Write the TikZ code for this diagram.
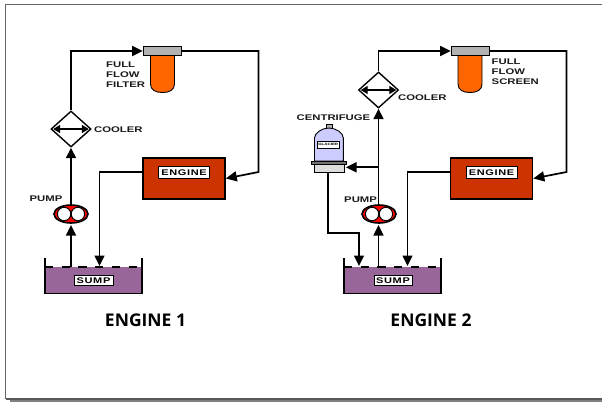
\documentclass[tikz,border=0pt]{standalone}
\usepackage{fontspec}
\setmainfont{Liberation Sans}
\newfontfamily\labfont[FakeStretch=1.38]{Liberation Sans Bold}
\newfontfamily\boxfont[FakeStretch=1.34,LetterSpace=8]{Liberation Sans Bold}
\newfontfamily\capfont{Open Sans Bold}
\usetikzlibrary{arrows.meta,shapes.geometric}
\definecolor{eng}{HTML}{CC3300}
\definecolor{oilc}{HTML}{FF6600}
\definecolor{sumpc}{HTML}{996699}
\definecolor{hdr}{HTML}{B2B2B2}
\definecolor{cent}{HTML}{CCCCFF}
\definecolor{basec}{HTML}{DDDDDD}
\tikzset{
 x=1pt,y=-1pt,
 pipe/.style={draw=black,line width=1.7pt},
 flow/.style={pipe,-{Triangle[length=10.5pt,width=10pt]}},
 dbl/.style={draw=black,line width=1.3pt,{Triangle[length=7pt,width=8pt]}-{Triangle[length=7pt,width=8pt]}},
 lab/.style={font=\labfont\fontsize{8.2}{10}\selectfont,inner sep=0pt,text=black!90,align=left},
 boxlab/.style={draw=black,line width=.7pt,fill=white,inner sep=0pt,font=\boxfont\fontsize{8.2}{9}\selectfont},
 enginebox/.style={draw=black,line width=1.6pt,fill=eng,minimum width=82pt,minimum height=41pt,inner sep=0pt},
 headerbox/.style={draw=black,line width=.8pt,fill=hdr,minimum width=38pt,minimum height=9.5pt,inner sep=0pt},
 coolerbox/.style={draw=black,line width=1.4pt,fill=white,diamond,minimum width=40pt,minimum height=36pt,inner sep=0pt},
 pumpbox/.style={draw=black,line width=1.6pt,fill=red,ellipse,minimum width=34pt,minimum height=18pt,inner sep=0pt},
 endpoint/.style={inner sep=0pt,minimum size=0pt},
 title/.style={font=\capfont\fontsize{17.5}{19}\selectfont,inner sep=0pt},
}
\newcommand{\rotors}[2]{%
 \draw[line width=1pt,fill=white] (#1-6.9,#2) circle [radius=6.7];
 \draw[line width=1pt,fill=white] (#1+6.9,#2) circle [radius=6.7];
}
\newcommand{\sumpsym}[1]{% x-left
 \fill[sumpc] (#1,267) rectangle (#1+97,293);
 \draw[line width=1.6pt] (#1,258) -- (#1,293.5) -- (#1+97,293.5) -- (#1+97,258);
 \draw[line width=2pt,dash pattern=on 8.3pt off 8.4pt] (#1,267) -- (#1+97,267);
}
\newcommand{\bowlsym}[1]{% x-left
 \draw[line width=.9pt,fill=oilc] (#1,56) -- (#1,84) .. controls (#1,90) and (#1+5,92.5) .. (#1+12,92.5) .. controls (#1+19,92.5) and (#1+24,90) .. (#1+24,84) -- (#1+24,56);
}
\begin{document}
\begin{tikzpicture}
\useasboundingbox (0,0) rectangle (602,402);
\draw[black!60,line width=1.6pt] (5.5,399) -- (5.5,4.5) -- (602,4.5);
\draw[black!65,line width=1.6pt] (5.5,398.8) -- (602,398.8);
\fill[black!50] (10,400) rectangle (602,402);

% ENGINE 1
\bowlsym{150.5}
\sumpsym{45}
\node[headerbox] (f1) at (162,51) {};
\node[enginebox] (e1) at (184,178.5) {};
\node[boxlab,minimum width=51pt,minimum height=12pt] (e1l) at (184,172.5) {ENGINE};
\node[coolerbox] (c1) at (71,129) {};
\node[endpoint] (c1w) at (53,129) {};
\node[endpoint] (c1e) at (89,129) {};
\draw[dbl] (c1w) -- (c1e);
\node[pumpbox] (p1) at (71,214) {};
\rotors{71}{214}
\node[boxlab,minimum width=39pt,minimum height=10pt] (s1l) at (93.5,280.5) {SUMP};
\coordinate (s1a) at (71,267);
\coordinate (s1b) at (99.5,266);
\coordinate (j1a) at (71,51);
\coordinate (j1b) at (258.5,51);
\coordinate (j1c) at (258.5,172);
\coordinate (j1d) at (99.5,172);
\coordinate (p1t) at (71,225);
\draw[flow] (s1a) -- (p1t);
\draw[flow] (p1.north) -- (c1.south);
\draw[flow] (c1.north) -- (j1a) -- (f1.west);
\draw[pipe,-{Triangle[length=11pt,width=10pt]}] (f1.east) -- (j1b) -- (j1c) -- (e1.east);
\draw[flow] (e1.west |- j1d) -- (j1d) -- (s1b);
\node[lab,anchor=north west] (t1) at (106,61.5) {FULL\\FLOW\\FILTER};
\node[lab,anchor=west] (t2) at (94,129.5) {COOLER};
\node[lab,anchor=west] (t3) at (29.5,198.5) {PUMP};
\node[title] (t4) at (145.5,320) {ENGINE 1};

% ENGINE 2
\bowlsym{458}
\sumpsym{344}
\node[headerbox] (f2) at (470,51) {};
\node[enginebox] (e2) at (491.5,178.5) {};
\node[boxlab,minimum width=51pt,minimum height=12pt] (e2l) at (491.5,172.5) {ENGINE};
\node[coolerbox] (c2) at (378.5,90) {};
\node[endpoint] (c2w) at (360.5,90) {};
\node[endpoint] (c2e) at (396.5,90) {};
\draw[dbl] (c2w) -- (c2e);
\node[pumpbox] (p2) at (379,214) {};
\rotors{379}{214}
\node[boxlab,minimum width=38pt,minimum height=9.5pt] (s2l) at (393,280.5) {SUMP};
% centrifuge
\draw[line width=.8pt,fill=hdr] (326,124.5) rectangle (332,129);
\draw[line width=.9pt,fill=cent] (314.5,161) -- (314.5,138) .. controls (314.5,133) and (322,128) .. (329,128) .. controls (336,128) and (343.3,133) .. (343.3,138) -- (343.3,161) -- cycle;
\node[draw=black,line width=.9pt,fill=basec,minimum width=29.5pt,minimum height=8pt,inner sep=0pt] (cb) at (329.5,168.5) {};
\node[draw=black,line width=.9pt,fill=black!55,minimum width=35.5pt,minimum height=3pt,inner sep=0pt] (cf) at (329,163.3) {};
\node[draw=black,line width=.6pt,fill=white,minimum width=22pt,minimum height=7pt,inner sep=0pt,font=\labfont\fontsize{3.2}{4}\selectfont] (cl) at (328.2,144.5) {GLACIER};
\coordinate (s2a) at (378.5,267);
\coordinate (s2b) at (407.5,266);
\coordinate (s2c) at (359,266);
\coordinate (j2a) at (378.5,51);
\coordinate (j2b) at (566.5,51);
\coordinate (j2c) at (566.5,172);
\coordinate (j2d) at (407.5,172);
\coordinate (j2e) at (378.5,167.3);
\coordinate (j2h) at (346,167.3);
\coordinate (j2f) at (328,233);
\coordinate (j2g) at (359,233);
\coordinate (p2t) at (378.5,225);
\draw[flow] (s2a) -- (p2t);
\draw[flow] (p2.north -| s2a) -- (c2.south);
\draw[flow] (j2e) -- (j2h);
\draw[flow] (c2.north) -- (j2a) -- (f2.west);
\draw[pipe,-{Triangle[length=11pt,width=10pt]}] (f2.east) -- (j2b) -- (j2c) -- (e2.east);
\draw[flow] (e2.west |- j2d) -- (j2d) -- (s2b);
\draw[flow] (cb.south -| j2f) -- (j2f) -- (j2g) -- (s2c);
\node[lab,anchor=north west] (t5) at (491.5,59) {FULL\\FLOW\\SCREEN};
\node[lab,anchor=west] (t6) at (398,98) {COOLER};
\node[lab,anchor=west] (t7) at (296.5,117.5) {CENTRIFUGE};
\node[lab,anchor=west] (t8) at (344,199.5) {PUMP};
\node[title] (t9) at (431,320) {ENGINE 2};
\end{tikzpicture}
\end{document}
